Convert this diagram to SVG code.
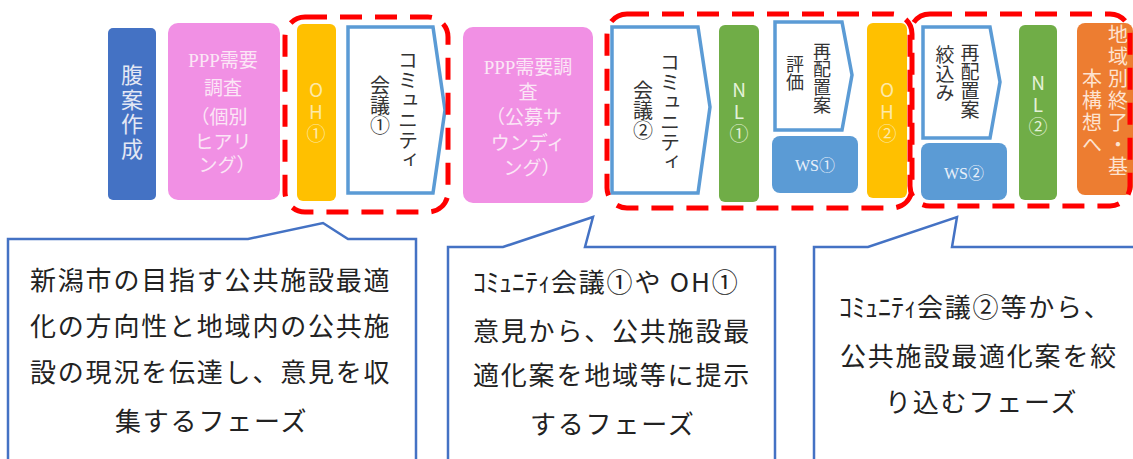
<svg xmlns="http://www.w3.org/2000/svg" width="1133" height="459" viewBox="0 0 1133 459">
<style>
.v{writing-mode:vertical-rl;font-family:"Noto Sans CJK JP",sans-serif;}
.up{text-orientation:upright;}
.lt{fill:#fbe6f6;}
.dk{fill:#333;}
.h{font-family:"Liberation Serif","Noto Sans CJK JP",serif;}
.red{fill:none;stroke:#ff0000;stroke-width:5;stroke-dasharray:22 13;}
.pent{fill:#fff;stroke:#5b9bd5;stroke-width:3.5;}
.call{fill:#fff;stroke:#4472c4;stroke-width:2.5;}
.ct{font-family:"Noto Sans CJK JP",sans-serif;font-size:26px;letter-spacing:1.8px;fill:#222;}
</style>
<rect width="1133" height="459" fill="#fff"/>

<g id="n-fukuan">
<rect x="108" y="28" width="48" height="172" rx="5" fill="#4472c4"/>
<text class="v" x="132" y="64" font-size="22" letter-spacing="2.5" fill="#e4e8f4">腹案作成</text>
</g>

<g id="n-ppp1">
<rect x="168" y="23" width="112" height="177" rx="10" fill="#f190e4"/>
<g class="h lt" font-size="19" text-anchor="middle">
<text x="223" y="67">PPP需要</text>
<text x="223" y="95">調査</text>
<text x="219" y="124">（個別</text>
<text x="223" y="149">ヒアリ</text>
<text x="227" y="172">ング）</text>
</g>
</g>

<g id="n-oh1">
<rect x="297" y="24" width="39" height="177" rx="6" fill="#ffc000"/>
<text class="v up" x="316" y="80" font-size="19" letter-spacing="3" fill="#fde9a8">OH①</text>
</g>

<g id="n-comm1">
<path class="pent" d="M348,27 L433,27 L445,110 L433,193 L348,193 Z"/>
<text class="v dk" x="408" y="50" font-size="20">コミュニティ</text>
<text class="v dk" x="380" y="75" font-size="20">会議①</text>
</g>

<g id="n-ppp2">
<rect x="463" y="27" width="130" height="176" rx="10" fill="#f190e4"/>
<g class="h lt" font-size="19" text-anchor="middle">
<text x="528" y="74">PPP需要調</text>
<text x="528" y="99">査</text>
<text x="524" y="124">（公募サ</text>
<text x="528" y="150">ウンディ</text>
<text x="532" y="175">ング）</text>
</g>
</g>

<g id="n-comm2">
<path class="pent" d="M612,27 L698,27 L710,107 L698,193 L612,193 Z"/>
<text class="v dk" x="670" y="52" font-size="20">コミュニティ</text>
<text class="v dk" x="643" y="80" font-size="20">会議②</text>
</g>

<g id="n-nl1">
<rect x="719" y="25" width="40" height="177" rx="6" fill="#70ad47"/>
<text class="v up" x="739" y="80" font-size="19" letter-spacing="3" fill="#e3f1d8">NL①</text>
</g>

<g id="n-hyoka">
<path class="pent" d="M775,22 L842,22 L852,75 L842,130 L775,130 Z"/>
<text class="v dk" x="822" y="42" font-size="18">再配置案</text>
<text class="v dk" x="795" y="55" font-size="18">評価</text>
</g>

<g id="n-ws1">
<rect x="772" y="136" width="86" height="57" rx="8" fill="#5b9bd5"/>
<text class="h" x="815" y="171" font-size="16" text-anchor="middle" fill="#e8f0fa">WS①</text>
</g>

<g id="n-oh2">
<rect x="867" y="23" width="40" height="175" rx="6" fill="#ffc000"/>
<text class="v up" x="887" y="80" font-size="19" letter-spacing="3" fill="#fde9a8">OH②</text>
</g>

<g id="n-shibori">
<path class="pent" d="M923,27 L990,27 L1000,82 L990,138 L923,138 Z"/>
<text class="v dk" x="970" y="43" font-size="19">再配置案</text>
<text class="v dk" x="945" y="45" font-size="19">絞込み</text>
</g>

<g id="n-ws2">
<rect x="921" y="143" width="86" height="57" rx="8" fill="#5b9bd5"/>
<text class="h" x="964" y="179" font-size="16" text-anchor="middle" fill="#e8f0fa">WS②</text>
</g>

<g id="n-nl2">
<rect x="1019" y="25" width="38" height="175" rx="6" fill="#70ad47"/>
<text class="v up" x="1038" y="73" font-size="19" letter-spacing="3" fill="#e3f1d8">NL②</text>
</g>

<g id="n-final">
<rect x="1077" y="23" width="56" height="172" rx="8" fill="#ed7d31"/>
<text class="v" x="1118" y="24" font-size="20" letter-spacing="2" fill="#fde3d0">地域別終了・基</text>
<text class="v" x="1092" y="68" font-size="20" letter-spacing="2" fill="#fde3d0">本構想へ</text>
</g>

<g id="phase-groups">
<rect class="red" x="285" y="17" width="163" height="195" rx="20"/>
<rect class="red" x="607" y="14" width="305" height="194" rx="20"/>
<rect class="red" x="910" y="14" width="220" height="192" rx="20"/>
</g>

<g id="callout1">
<path class="call" d="M8,470 L8,239 L248,239 L323,223 L348,239 L416,239 L416,470"/>
<text class="ct" x="30" y="290">新潟市の目指す公共施設最適</text>
<text class="ct" x="30" y="336">化の方向性と地域内の公共施</text>
<text class="ct" x="30" y="382">設の現況を伝達し、意見を収</text>
<text class="ct" x="115" y="431">集するフェーズ</text>
</g>

<g id="callout2">
<path class="call" d="M448,470 L448,247 L503,247 L593,217 L585,247 L775,247 L775,470"/>
<text class="ct" x="473" y="292"><tspan letter-spacing="0">ｺﾐｭﾆﾃｨ</tspan>会議①や OH①</text>
<text class="ct" x="473" y="341">意見から、公共施設最</text>
<text class="ct" x="473" y="385">適化案を地域等に提示</text>
<text class="ct" x="530" y="434">するフェーズ</text>
</g>

<g id="callout3">
<path class="call" d="M814,470 L814,247 L868,247 L957,217 L952,247 L1140,247"/>
<text class="ct" x="839" y="317"><tspan letter-spacing="0">ｺﾐｭﾆﾃｨ</tspan>会議②等から、</text>
<text class="ct" x="840" y="366">公共施設最適化案を絞</text>
<text class="ct" x="885" y="412">り込むフェーズ</text>
</g>

<g id="connectors"/>
</svg>
